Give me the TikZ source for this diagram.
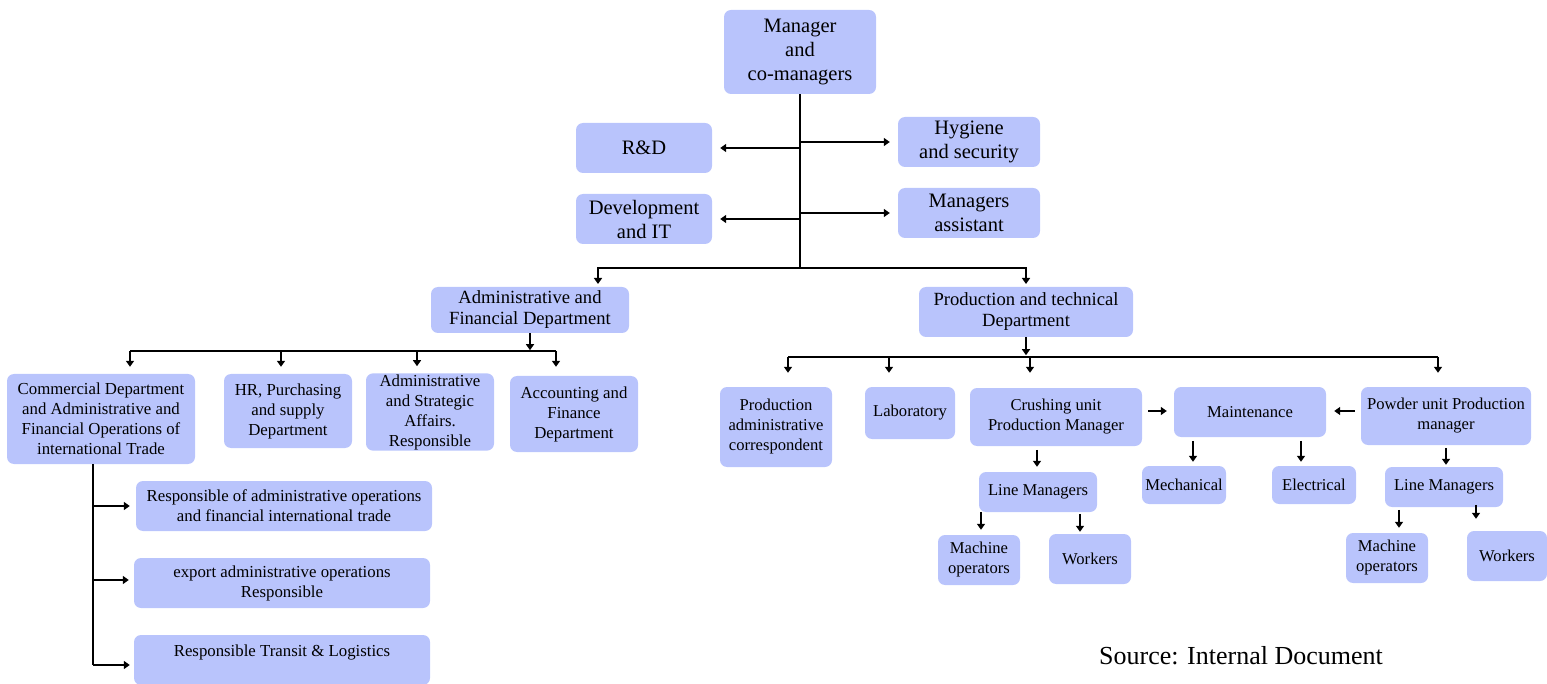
\documentclass[tikz,border=0pt]{standalone}
\usepackage{fontspec}
\setmainfont{Liberation Serif}
\usetikzlibrary{arrows.meta,calc}
\definecolor{boxfill}{RGB}{185,196,252}
\tikzset{
  box/.style={draw=none, fill=boxfill, rounded corners=7pt, align=center, inner sep=1pt},
  big/.style={font=\fontsize{20.5}{24}\selectfont},
  mid/.style={font=\fontsize{18.6}{21}\selectfont},
  small/.style={font=\fontsize{16.8}{20}\selectfont},
  tiny/.style={font=\fontsize{16.6}{20}\selectfont},
  ln/.style={line width=2pt, black},
  arr/.style={line width=2pt, black, -{Triangle[length=6pt,width=8pt]}},
}
\begin{document}
\begin{tikzpicture}[x=1pt,y=-1pt]
\useasboundingbox (0,0) rectangle (1547,684);

% top level
\node[box,big,minimum width=152,minimum height=84] (mgr) at (800,52) {Manager\\and\\co-managers};
\node[box,big,minimum width=136,minimum height=50] (rd) at (644,148) {R\&D};
\node[box,big,minimum width=142,minimum height=50] (hyg) at (969,142) {Hygiene\\and security};
\node[box,big,minimum width=136,minimum height=50] (dev) at (644,219) {Development\\and IT};
\node[box,big,minimum width=142,minimum height=50] (asst) at (969,213) {Managers\\assistant};

% departments
\node[box,mid,minimum width=198,minimum height=46] (afd) at (530,310) {Administrative and\\Financial Department};
\node[box,mid,minimum width=214,minimum height=50] (ptd) at (1026,312) {Production and technical\\Department};

% administrative branch
\node[box,small,minimum width=188,minimum height=90] (comm) at (101,419) {Commercial Department\\and Administrative and\\Financial Operations of\\international Trade};
\node[box,small,minimum width=128,minimum height=74] (hr) at (288,411) {HR, Purchasing\\and supply\\Department};
\node[box,small,minimum width=128,minimum height=76] (as) at (430,412) {Administrative\\and Strategic\\Affairs.\\Responsible};
\node[box,small,minimum width=128,minimum height=76] (acc) at (574,414) {Accounting and\\Finance\\Department};
\node[box,small,minimum width=296,minimum height=50] (r1) at (284,506) {Responsible of administrative operations\\and financial international trade};
\node[box,small,minimum width=296,minimum height=50] (r2) at (282,583) {export administrative operations\\Responsible};
\node[box,small,minimum width=296,minimum height=50] (r3) at (282,660) {Responsible Transit \& Logistics\\[-8pt]\strut};

% production branch
\node[box,tiny,minimum width=112,minimum height=80] (pac) at (776,427) {Production\\administrative\\correspondent};
\node[box,tiny,minimum width=90,minimum height=52] (lab) at (910,413) {Laboratory};
\node[box,tiny,minimum width=172,minimum height=58] (crush) at (1056,417) {Crushing unit\\Production Manager};
\node[box,tiny,minimum width=152,minimum height=50] (maint) at (1250,412) {Maintenance};
\node[box,tiny,minimum width=170,minimum height=58] (powder) at (1446,416) {Powder unit Production\\manager};
\node[box,tiny,minimum width=118,minimum height=40] (lm1) at (1038,492) {Line Managers};
\node[box,tiny,minimum width=82,minimum height=50] (mo1) at (979,560) {Machine\\operators};
\node[box,tiny,minimum width=82,minimum height=50] (w1) at (1090,559) {Workers};
\node[box,tiny,minimum width=84,minimum height=38] (mech) at (1184,485) {Mechanical};
\node[box,tiny,minimum width=84,minimum height=38] (elec) at (1314,485) {Electrical};
\node[box,tiny,minimum width=118,minimum height=40] (lm2) at (1444,487) {Line Managers};
\node[box,tiny,minimum width=82,minimum height=50] (mo2) at (1387,558) {Machine\\operators};
\node[box,tiny,minimum width=80,minimum height=50] (w2) at (1507,556) {Workers};

\node[font=\fontsize{26}{28}\selectfont] (src) at (1241,656) {Source: Internal Document};

% connectors from the manager
\coordinate (trunk) at (800,268);
\draw[ln] (mgr.south) -- (trunk);
\draw[arr] (mgr.south |- rd.east) -- ($(rd.east)+(8,0)$);
\draw[arr] (mgr.south |- dev.east) -- ($(dev.east)+(8,0)$);
\draw[arr] (mgr.south |- hyg.west) -- ($(hyg.west)+(-8,0)$);
\draw[arr] (mgr.south |- asst.west) -- ($(asst.west)+(-8,0)$);
\coordinate (afdin) at (598,284);
\coordinate (ptdin) at (1026,284);
\draw[arr] (trunk) -| (afdin);
\draw[arr] (trunk) -| (ptdin);

% administrative bus
\coordinate (ab1) at (130,351);
\coordinate (ab2) at (281,351);
\coordinate (ab3) at (417,351);
\coordinate (ab4) at (556,351);
\draw[arr] (afd.south) -- ($(afd.south)+(0,17)$);
\draw[ln] (ab1) -- (ab4);
\draw[arr] (ab1) -- ($(ab1 |- comm.north)+(0,-7)$);
\draw[arr] (ab2) -- ($(ab2 |- hr.north)+(0,-7)$);
\draw[arr] (ab3) -- ($(ab3 |- as.north)+(0,-7)$);
\draw[arr] (ab4) -- ($(ab4 |- acc.north)+(0,-9)$);

% commercial sub-branch
\coordinate (cv) at (93,665);
\draw[ln] (comm.south -| cv) -- (cv);
\draw[arr] (cv |- r1.west) -- ($(r1.west)+(-6,0)$);
\draw[arr] ($(cv |- r2.west)+(0,-3)$) -- ($(r2.west)+(-5,-3)$);
\draw[arr] (cv) -- ($(cv -| r3.west)+(-4,0)$);

% production bus
\coordinate (pb1) at (788,357);
\coordinate (pb2) at (889,357);
\coordinate (pb3) at (1030,357);
\coordinate (pb4) at (1438,357);
\draw[arr] (ptd.south) -- ($(ptd.south)+(0,18)$);
\draw[ln] (pb1) -- (pb4);
\draw[arr] (pb1) -- ($(pb1 |- pac.north)+(0,-14)$);
\draw[arr] (pb2) -- ($(pb2 |- lab.north)+(0,-14)$);
\draw[arr] (pb3) -- ($(pb3 |- crush.north)+(0,-15)$);
\draw[arr] (pb4) -- ($(pb4 |- powder.north)+(0,-14)$);

% units
\draw[arr] ($(crush.east |- maint.west)+(6,-1)$) -- ($(maint.west)+(-7,-1)$);
\draw[arr] ($(powder.west |- maint.east)+(-6,-1)$) -- ($(maint.east)+(8,-1)$);
\draw[arr] ($(lm1.north)+(-1,-22)$) -- ($(lm1.north)+(-1,-5)$);
\draw[arr] ($(mo1.north)+(2,-23)$) -- ($(mo1.north)+(2,-5)$);
\draw[arr] ($(w1.north)+(-10,-20)$) -- ($(w1.north)+(-10,-2)$);
\draw[arr] ($(mech.north)+(9,-25)$) -- ($(mech.north)+(9,-4)$);
\draw[arr] ($(elec.north)+(-13,-25)$) -- ($(elec.north)+(-13,-4)$);
\draw[arr] ($(lm2.north)+(2,-19)$) -- ($(lm2.north)+(2,-2)$);
\draw[arr] ($(mo2.north)+(12,-23)$) -- ($(mo2.north)+(12,-5)$);
\draw[arr] ($(w2.north)+(-31,-26)$) -- ($(w2.north)+(-31,-12)$);
\end{tikzpicture}
\end{document}
